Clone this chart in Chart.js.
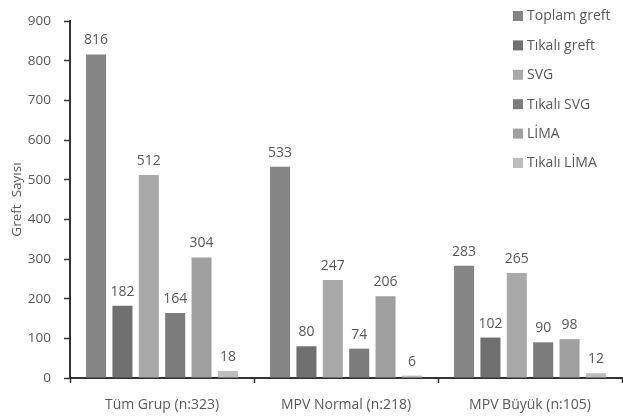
<!DOCTYPE html>
<html>
<head>
<meta charset="utf-8">
<script src="https://cdn.jsdelivr.net/npm/chart.js@4/dist/chart.umd.min.js"></script>
<style>
  html, body { margin: 0; padding: 0; background: #ffffff; }
  #wrap { width: 623px; height: 420px; }
</style>
</head>
<body>
<div id="wrap"><canvas id="c" width="623" height="420"></canvas></div>
<script>
// Groups on the x axis
const groups = ['Tüm Grup (n:323)', 'MPV Normal (n:218)', 'MPV Büyük (n:105)'];

// Graft counts per series, one value per group
const toplamGreft = [816, 533, 283];
const tikaliGreft = [182, 80, 102];
const svg = [512, 247, 265];
const tikaliSvg = [164, 74, 90];
const lima = [304, 206, 98];
const tikaliLima = [18, 6, 12];

const seriesNames = ['Toplam greft', 'Tıkalı greft', 'SVG', 'Tıkalı SVG', 'LİMA', 'Tıkalı LİMA'];
const seriesColors = ['#858585', '#707070', '#a9a9a9', '#7c7c7c', '#a0a0a0', '#bdbdbd'];

const yTicks = [0, 100, 200, 300, 400, 500, 600, 700, 800, 900];

const FONT = '"Open Sans", "DejaVu Sans", sans-serif';
const TEXT = '#595959';

const seriesValues = [toplamGreft, tikaliGreft, svg, tikaliSvg, lima, tikaliLima];

// Value written above each bar
const barValueLabels = {
  id: 'barValueLabels',
  afterDatasetsDraw(chart) {
    const ctx = chart.ctx;
    ctx.save();
    ctx.font = '14px ' + FONT;
    ctx.fillStyle = TEXT;
    ctx.textAlign = 'center';
    ctx.textBaseline = 'alphabetic';
    chart.data.datasets.forEach((ds, i) => {
      const meta = chart.getDatasetMeta(i);
      meta.data.forEach((bar, j) => {
        ctx.fillText(String(ds.data[j]), bar.x, bar.y - 10);
      });
    });
    ctx.restore();
  }
};

// Vertical legend sitting inside the plot on the right
const insideLegend = {
  id: 'insideLegend',
  afterDraw(chart) {
    const ctx = chart.ctx;
    ctx.save();
    ctx.font = '14px ' + FONT;
    ctx.textBaseline = 'middle';
    ctx.textAlign = 'left';
    const x0 = 513, y0 = 16, step = 29.4;
    chart.data.datasets.forEach((ds, i) => {
      const y = y0 + i * step;
      ctx.fillStyle = ds.backgroundColor;
      ctx.fillRect(x0, y - 5, 10, 10);
      ctx.fillStyle = TEXT;
      ctx.fillText(ds.label, x0 + 14, y + 0.5);
    });
    ctx.restore();
  }
};

new Chart(document.getElementById('c'), {
  type: 'bar',
  data: {
    labels: groups,
    datasets: seriesNames.map((name, i) => ({
      label: name,
      data: seriesValues[i],
      backgroundColor: seriesColors[i],
      borderWidth: 0,
      categoryPercentage: 0.86,
      barPercentage: 0.76
    }))
  },
  options: {
    responsive: false,
    animation: false,
    layout: { padding: { top: 13, right: 1, left: 0, bottom: 0 } },
    plugins: {
      legend: { display: false },
      tooltip: { enabled: false }
    },
    scales: {
      x: {
        grid: {
          offset: true,
          drawOnChartArea: false,
          drawTicks: true,
          tickLength: 5,
          tickColor: '#333333',
          tickWidth: 1.5
        },
        border: { color: '#333333', width: 2 },
        ticks: {
          color: TEXT,
          font: { family: FONT, size: 14 },
          padding: 14,
          maxRotation: 0
        },
        afterFit(scale) { scale.height = 42; }
      },
      y: {
        min: 0,
        max: 900,
        afterBuildTicks(scale) { scale.ticks = yTicks.map(v => ({ value: v })); },
        grid: {
          drawOnChartArea: false,
          drawTicks: true,
          tickLength: 6,
          tickColor: '#333333',
          tickWidth: 1.5
        },
        border: { color: '#333333', width: 2 },
        ticks: {
          color: TEXT,
          font: { family: FONT, size: 13.5 },
          padding: 13
        },
        title: {
          display: true,
          text: 'Greft  Sayısı',
          color: TEXT,
          font: { family: FONT, size: 13.5 },
          padding: { top: 9, bottom: 0 }
        },
        afterFit(scale) { scale.width = 70; }
      }
    }
  },
  plugins: [barValueLabels, insideLegend]
});
</script>
</body>
</html>
